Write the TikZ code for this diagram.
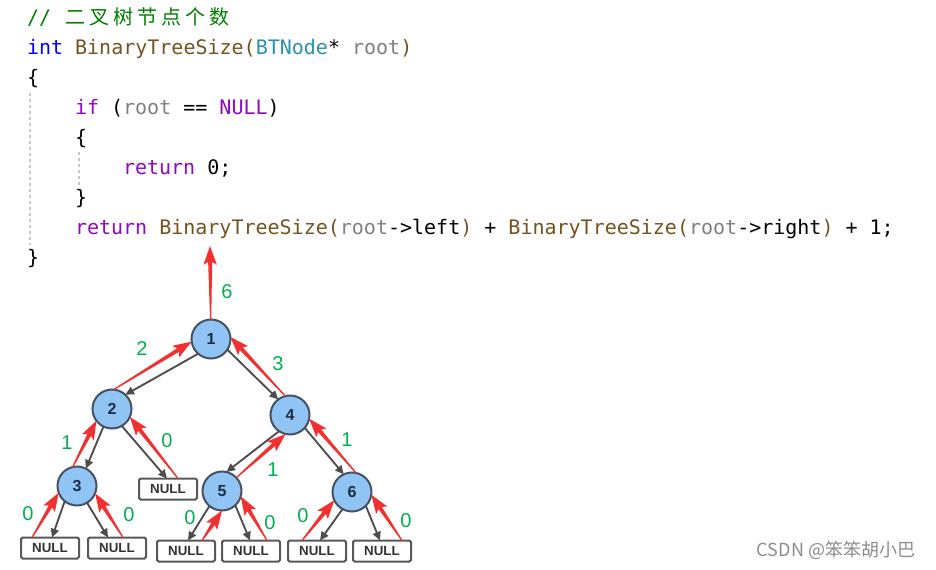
\documentclass[tikz,border=0pt]{standalone}
\usepackage{fontspec}
\setmonofont{DejaVu Sans Mono}
\newfontfamily\cjk{Noto Sans CJK SC}
\newfontfamily\labfont{Liberation Sans}
\usetikzlibrary{arrows.meta,calc}
\definecolor{cmt}{RGB}{0,128,0}
\definecolor{kwblue}{RGB}{0,0,255}
\definecolor{fn}{RGB}{116,83,31}
\definecolor{typ}{RGB}{43,145,175}
\definecolor{par}{RGB}{128,128,128}
\definecolor{kwp}{RGB}{143,8,196}
\definecolor{lblgreen}{RGB}{0,176,80}
\definecolor{redarr}{RGB}{242,48,48}
\definecolor{grayarr}{RGB}{77,77,77}
\definecolor{nodefill}{RGB}{143,196,244}
\definecolor{nodeline}{RGB}{70,82,95}
\definecolor{nodetext}{RGB}{30,45,68}
\newcommand\cjc[1]{\makebox[18pt][c]{\cjk #1}}
\begin{document}
\begin{tikzpicture}[x=0.75pt,y=-0.75pt,
  code/.style={anchor=base west,inner sep=0pt,outer sep=0pt,font=\ttfamily\fontsize{15}{18}\selectfont},
  guide/.style={draw=black!22,line width=0.9pt,dash pattern=on 2.5pt off 2pt},
  treenode/.style={circle,draw=nodeline,line width=1.5pt,fill=nodefill,minimum size=29.25pt,inner sep=0pt,outer sep=0pt,text=nodetext,font=\labfont\bfseries\fontsize{12}{14}\selectfont},
  nullbox/.style={rectangle,rounded corners=1.2pt,draw=black!65,line width=1.5pt,fill=white,minimum width=43.5pt,minimum height=15.75pt,inner sep=0pt,outer sep=0pt,text=black!80,font=\labfont\bfseries\fontsize{10}{11}\selectfont},
  ga/.style={draw=grayarr,line width=1.4pt,-{Triangle[length=6.5pt,width=6pt]}},
  ra/.style={fill=redarr,to path={
    ($(\tikztostart)!0.45pt!90:(\tikztotarget)$) --
    ($(\tikztotarget)!12.09pt!-7.1:(\tikztostart)$) --
    ($(\tikztotarget)!14.87pt!-19.65:(\tikztostart)$) --
    (\tikztotarget) --
    ($(\tikztotarget)!14.87pt!19.65:(\tikztostart)$) --
    ($(\tikztotarget)!12.09pt!7.1:(\tikztostart)$) --
    ($(\tikztostart)!0.45pt!-90:(\tikztotarget)$) -- cycle}},
  lbl/.style={inner sep=0pt,text=lblgreen,font=\labfont\fontsize{15}{17}\selectfont},
  wm/.style={inner sep=0pt,text=black!45,font=\cjk\fontsize{13.5}{16}\selectfont}]
\fill[white] (0,0) rectangle (936,570);
\useasboundingbox (0,0) rectangle (936,570);

% code
\node[code] (c1) at (27,25) {\textcolor{cmt}{// \cjc{二}\cjc{叉}\cjc{树}\cjc{节}\cjc{点}\cjc{个}\cjc{数}}};
\node[code] (c2) at (27,55) {\textcolor{kwblue}{int} \textcolor{fn}{BinaryTreeSize(}\textcolor{typ}{BTNode}* \textcolor{par}{root}\textcolor{fn}{)}};
\node[code] (c3) at (27,85) {\{};
\node[code] (c4) at (75,115) {\textcolor{kwp}{if} (\textcolor{par}{root} == \textcolor{kwp}{NULL})};
\node[code] (c5) at (75,145) {\{};
\node[code] (c6) at (123,175) {\textcolor{kwp}{return} 0;};
\node[code] (c7) at (75,205) {\}};
\node[code] (c8) at (75,235) {\textcolor{kwp}{return} \textcolor{fn}{BinaryTreeSize(}\textcolor{par}{root}->left\textcolor{fn}{)} + \textcolor{fn}{BinaryTreeSize(}\textcolor{par}{root}->right\textcolor{fn}{)} + 1;};
\node[code] (c9) at (27,265) {\}};
\draw[guide] (30,93) -- (30,245);
\draw[guide] (79,152) -- (79,186);

% tree
\node[treenode] (n1) at (211,339) {1};
\node[treenode] (n2) at (112,409) {2};
\node[treenode] (n4) at (290,415) {4};
\node[treenode] (n3) at (77,486) {3};
\node[treenode] (n5) at (222,491) {5};
\node[treenode] (n6) at (352,492) {6};
\node[nullbox] (na) at (168,489) {NULL};
\node[nullbox] (b1) at (50,548) {NULL};
\node[nullbox] (b2) at (117,548) {NULL};
\node[nullbox] (b3) at (186,551) {NULL};
\node[nullbox] (b4) at (251,551) {NULL};
\node[nullbox] (b5) at (317,551) {NULL};
\node[nullbox] (b6) at (382,551) {NULL};
\coordinate (top) at (210,246);

% connector end points on the NULL boxes
\coordinate (gaE) at ($(na.north)+(-1,0)$);
\coordinate (raS) at ($(na.north)+(10,0)$);
\coordinate (g1E) at ($(b1.north)+(2,0)$);
\coordinate (r1S) at ($(b1.north)+(-18,0)$);
\coordinate (g2E) at ($(b2.north)+(-9,0)$);
\coordinate (r2S) at ($(b2.north)+(6,0)$);
\coordinate (g3E) at ($(b3.north)+(2,0)$);
\coordinate (r3S) at ($(b3.north)+(16,0)$);
\coordinate (g4E) at ($(b4.north)+(-1,0)$);
\coordinate (r4S) at ($(b4.north)+(16,0)$);
\coordinate (g5E) at ($(b5.north)+(3,0)$);
\coordinate (r5S) at ($(b5.north)+(-15,0)$);
\coordinate (g6E) at ($(b6.north)+(-2,0)$);
\coordinate (r6S) at ($(b6.north)+(20,0)$);

% gray arrows (down)
\draw[ga] (n1.229) -- (n2.47);
\draw[ga] (n1.327) -- (n4.127);
\draw[ga] (n2.244) -- (n3.63);
\draw[ga] (n2.300) -- (gaE);
\draw[ga] (n4.236) -- (n5.77);
\draw[ga] (n4.319) -- (n6.115);
\draw[ga] (n3.231) -- (g1E);
\draw[ga] (n3.301) -- (g2E);
\draw[ga] (n5.230) -- (g3E);
\draw[ga] (n5.313) -- (g4E);
\draw[ga] (n6.241) -- (g5E);
\draw[ga] (n6.315) -- (g6E);

% red arrows (up)
\path[ra] (n1.91) to (top);
\path[ra] (n2.85) to (n1.188);
\path[ra] (n4.104) to (n1.6);
\path[ra] (n3.103) to (n2.217);
\path[ra] (raS) to (n2.336);
\path[ra] (n5.43) to (n4.257);
\path[ra] (n6.78) to (n4.349);
\path[ra] (r1S) to (n3.200);
\path[ra] (r2S) to (n3.338);
\path[ra] (r3S) to (n5.270);
\path[ra] (r4S) to (n5.344);
\path[ra] (r5S) to (n6.205);
\path[ra] (r6S) to (n6.352);

% labels
\node[lbl] (l1) at (227,292) {6};
\node[lbl] (l2) at (142,349) {2};
\node[lbl] (l3) at (278,364) {3};
\node[lbl] (l4) at (67,443) {1};
\node[lbl] (l5) at (167,441) {0};
\node[lbl] (l6) at (273,470) {1};
\node[lbl] (l7) at (347,440) {1};
\node[lbl] (l8) at (28,514) {0};
\node[lbl] (l9) at (129,515) {0};
\node[lbl] (l10) at (190,518) {0};
\node[lbl] (l11) at (270,523) {0};
\node[lbl] (l12) at (303,516) {0};
\node[lbl] (l13) at (406,521) {0};

\node[wm] (wm) at (836,550) {CSDN @笨笨胡小巴};
\end{tikzpicture}
\end{document}
